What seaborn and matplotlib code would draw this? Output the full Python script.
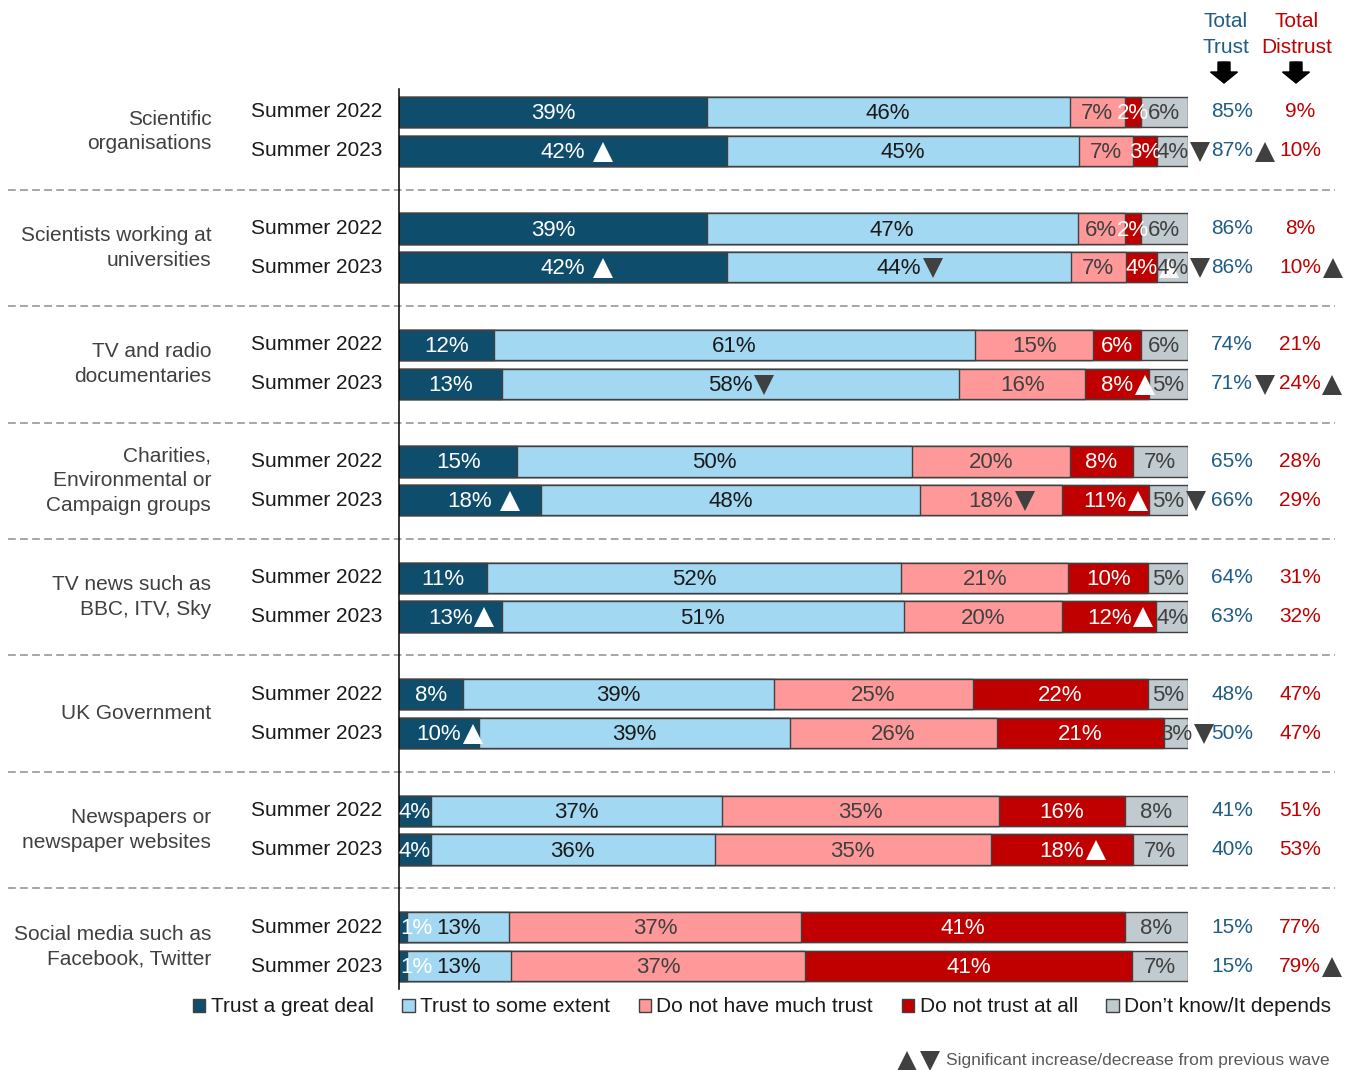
import numpy as np
import pandas as pd
import seaborn as sns
import matplotlib.pyplot as plt
from matplotlib.patches import Patch, FancyArrow
from matplotlib.transforms import IdentityTransform

# Data (percentages)
groups = ["Scientific\norganisations", "Scientists working at\nuniversities",
          "TV and radio\ndocumentaries", "Charities,\nEnvironmental or\nCampaign groups",
          "TV news such as\nBBC, ITV, Sky", "UK Government",
          "Newspapers or\nnewspaper websites", "Social media such as\nFacebook, Twitter"]
waves = ["Summer 2022", "Summer 2023"]
series_names = ["Trust a great deal", "Trust to some extent", "Do not have much trust",
                "Do not trust at all", "Don\u2019t know/It depends"]

great_deal = [39, 42, 39, 42, 12, 13, 15, 18, 11, 13, 8, 10, 4, 4, 1, 1]
some_extent = [46, 45, 47, 44, 61, 58, 50, 48, 52, 51, 39, 39, 37, 36, 13, 13]
not_much = [7, 7, 6, 7, 15, 16, 20, 18, 21, 20, 25, 26, 35, 35, 37, 37]
not_at_all = [2, 3, 2, 4, 6, 8, 8, 11, 10, 12, 22, 21, 16, 18, 41, 41]
dont_know = [6, 4, 6, 4, 6, 5, 7, 5, 5, 4, 5, 3, 8, 7, 8, 7]
total_trust = [85, 87, 86, 86, 74, 71, 65, 66, 64, 63, 48, 50, 41, 40, 15, 15]
total_distrust = [9, 10, 8, 10, 21, 24, 28, 29, 31, 32, 47, 47, 51, 53, 77, 79]

# significance flags: (row, column, direction); columns 0-4 segments, 5 trust, 6 distrust
sig_marks = [(1, 0, "up"), (1, 4, "down"), (1, 5, "up"),
             (3, 0, "up"), (3, 1, "down"), (3, 3, "up"), (3, 4, "down"), (3, 6, "up"),
             (5, 1, "down"), (5, 3, "up"), (5, 5, "down"), (5, 6, "up"),
             (7, 0, "up"), (7, 2, "down"), (7, 3, "up"), (7, 4, "down"),
             (9, 0, "up"), (9, 3, "up"),
             (11, 0, "up"), (11, 4, "down"),
             (13, 3, "up"),
             (15, 6, "up")]

colors = ["#0F4D6C", "#A3D8F2", "#FF9999", "#C00000", "#C0CACF"]
text_colors = ["white", "#1A1A1A", "#404040", "white", "#404040"]
tri_colors = ["white", "#404040", "#404040", "white", "#404040"]
edge = "#404040"
trust_col = "#1F5C87"
distrust_col = "#C00000"

sns.set_style("white")
plt.rcParams["font.family"] = ["Liberation Sans", "DejaVu Sans"]

# build table
keys = [f"{g}|{w}" for g in range(len(groups)) for w in range(len(waves))]
order = []
for g in range(len(groups)):
    order += [f"{g}|0", f"{g}|1"]
    if g < len(groups) - 1:
        order.append(f"gap{g}")
vals = np.array([great_deal, some_extent, not_much, not_at_all, dont_know], dtype=float).T
share = vals / vals.sum(axis=1, keepdims=True) * 100
cum = share.cumsum(axis=1)
df = pd.DataFrame({"row": keys})
for j in range(5):
    df[f"cum{j}"] = cum[:, j]

fig = plt.figure(figsize=(13.56, 10.7), dpi=100)
ax = fig.add_axes([399 / 1356, 1 - 989.3 / 1070, 789 / 1356, 900.6 / 1070])

for j in reversed(range(5)):
    sns.barplot(data=df, x=f"cum{j}", y="row", order=order, orient="h", color=colors[j],
                saturation=1, width=0.78, edgecolor=edge, linewidth=1, errorbar=None, ax=ax)

ax.set_xlim(0, 100)
ax.set_ylim(22.6, -0.6)
ax.set_xticks([])
ax.set_yticks([])
ax.set_xlabel("")
ax.set_ylabel("")
sns.despine(ax=ax, bottom=True)
ax.spines["left"].set_color("black")
ax.spines["left"].set_linewidth(1.1)

ypos = {k: i for i, k in enumerate(order)}
sig_lookup = {(r, c): d for r, c, d in sig_marks}
pending = []  # triangles placed after layout is known

for i, k in enumerate(keys):
    y = ypos[k]
    left = 0
    for j in range(5):
        mid = left + share[i, j] / 2
        x, ha = mid, "center"
        if j == 0 and share[i, j] < 3:
            x, ha = 0.1, "left"
        left += share[i, j]
        t = ax.text(x, y + 0.04, f"{int(vals[i, j])}%", ha=ha, va="center",
                    fontsize=16, color=text_colors[j], clip_on=False)
        if (i, j) in sig_lookup:
            gap = 7 if share[i, j] > 15 and j == 0 else 1
            pending.append((t, y, sig_lookup[(i, j)], tri_colors[j], gap))
    t = ax.text(105.6, y, f"{total_trust[i]}%", ha="center", va="center",
                fontsize=15, color=trust_col, clip_on=False)
    if (i, 5) in sig_lookup:
        pending.append((t, y, sig_lookup[(i, 5)], "#404040", 1))
    t = ax.text(114.2, y, f"{total_distrust[i]}%", ha="center", va="center",
                fontsize=15, color=distrust_col, clip_on=False)
    if (i, 6) in sig_lookup:
        pending.append((t, y, sig_lookup[(i, 6)], "#404040", 1))
    ax.text(-2.15, y, waves[i % 2], ha="right", va="center", fontsize=15,
            color="#1A1A1A", clip_on=False)

for g, name in enumerate(groups):
    y = ypos[f"{g}|0"] + 0.5
    ax.text(-23.8, y, name, ha="right", va="center", fontsize=15, color="#404040",
            linespacing=1.38, clip_on=False)
    if g < len(groups) - 1:
        gy = ypos[f"gap{g}"]
        ax.plot([-49.6, 118.6], [gy, gy], ls=(0, (4, 2.2)), color="#A6A6A6", lw=1.4,
                clip_on=False)

# header
fig.text(1226 / 1356, 1 - 12 / 1070, "Total\nTrust", ha="center", va="top", fontsize=15,
         color=trust_col, linespacing=1.45)
fig.text(1297 / 1356, 1 - 12 / 1070, "Total\nDistrust", ha="center", va="top", fontsize=15,
         color=distrust_col, linespacing=1.45)
for xc in (1224, 1296):
    fig.add_artist(FancyArrow(xc, 1070 - 62, 0, -21, width=12, head_width=27, head_length=11,
                              length_includes_head=True, color="black",
                              transform=IdentityTransform()))

# legend
handles = [Patch(facecolor=c, edgecolor=edge, linewidth=1) for c in colors]
fig.legend(handles, series_names, loc="center", bbox_to_anchor=(762 / 1356, 1 - 1007 / 1070),
           ncol=5, frameon=False, fontsize=15, handlelength=0.6, handleheight=0.6,
           handletextpad=0.25, columnspacing=1.38, borderaxespad=0, labelcolor="#1A1A1A")

# footnote
foot = fig.text(1330 / 1356, 1 - 1061 / 1070, "Significant increase/decrease from previous wave",
                ha="right", va="center", fontsize=12.5, color="#595959")

# significance triangles as markers, placed right after their label
fig.canvas.draw()
renderer = fig.canvas.get_renderer()
inv = ax.transData.inverted()
tri_px = 21
for t, y, direction, col, gap in pending:
    bb = t.get_window_extent(renderer)
    xd = inv.transform((bb.x1 + gap + tri_px / 2, 0))[0]
    ax.plot(xd, y + 0.02, marker="^" if direction == "up" else "v", ms=15, color=col,
            mew=0, clip_on=False)

fb = foot.get_window_extent(renderer)
for n, m in enumerate(["v", "^"]):
    xd, yd = inv.transform((fb.x0 - 6 - tri_px / 2 - n * (tri_px + 2), (fb.y0 + fb.y1) / 2))
    ax.plot(xd, yd, marker=m, ms=15, color="#404040", mew=0, clip_on=False)

ax.set_xlim(0, 100)
ax.set_ylim(22.6, -0.6)
fig.savefig("out.png", dpi=100)
